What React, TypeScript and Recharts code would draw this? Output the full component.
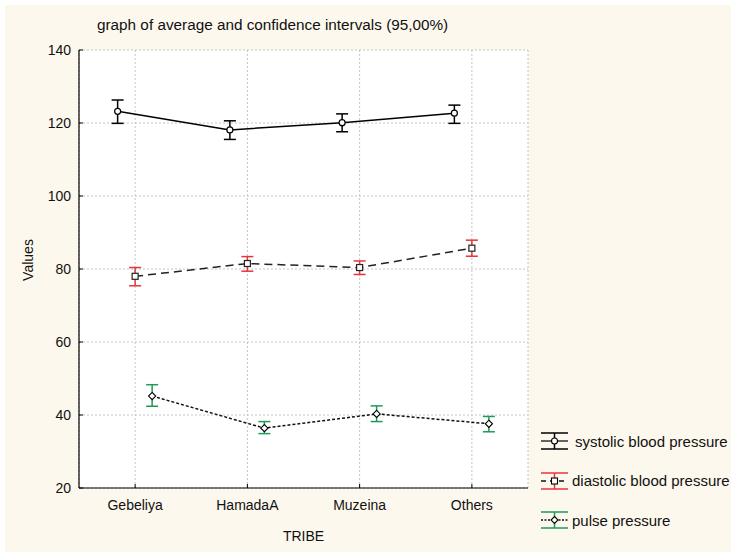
import React from 'react';
import { LineChart, Line, XAxis, YAxis, CartesianGrid, ErrorBar, Label } from 'recharts';

// Mean and 95% confidence bounds per tribe
const tribes = ['Gebeliya', 'HamadaA', 'Muzeina', 'Others'];

const systolicMean = [123.2, 118.1, 120.1, 122.7];
const systolicLow = [119.9, 115.5, 117.6, 119.9];
const systolicHigh = [126.3, 120.6, 122.5, 124.9];

const diastolicMean = [78.0, 81.5, 80.4, 85.7];
const diastolicLow = [75.4, 79.4, 78.5, 83.5];
const diastolicHigh = [80.4, 83.4, 82.2, 87.9];

const pulseMean = [45.2, 36.4, 40.3, 37.6];
const pulseLow = [42.4, 34.9, 38.2, 35.4];
const pulseHigh = [48.3, 38.2, 42.5, 39.6];

const yTicks = [20, 40, 60, 80, 100, 120, 140];

const seriesNames = ['systolic blood pressure', 'diastolic blood pressure', 'pulse pressure'];

const FONT = '"Liberation Sans", Arial, Helvetica, sans-serif';
const RED = '#e8333b';
const GREEN = '#1f9a57';
const CREAM = '#fdf8ed';

const rows = tribes.map((tribe, i) => ({
  tribe,
  sys: systolicMean[i],
  sysErr: [systolicMean[i] - systolicLow[i], systolicHigh[i] - systolicMean[i]],
  dia: diastolicMean[i],
  diaErr: [diastolicMean[i] - diastolicLow[i], diastolicHigh[i] - diastolicMean[i]],
  pul: pulseMean[i],
  pulErr: [pulseMean[i] - pulseLow[i], pulseHigh[i] - pulseMean[i]],
}));

const circleDot = (p: any) =>
  p.cx == null ? null : (
    <circle key={`c-${p.index}`} cx={p.cx} cy={p.cy} r={3} fill="#fff" stroke="#000" strokeWidth={1.2} />
  );

const squareDot = (p: any) =>
  p.cx == null ? null : (
    <rect key={`s-${p.index}`} x={p.cx - 3} y={p.cy - 3} width={6} height={6} fill="#fff" stroke="#222" strokeWidth={1.2} />
  );

const diamondDot = (p: any) =>
  p.cx == null ? null : (
    <path
      key={`d-${p.index}`}
      d={`M${p.cx},${p.cy - 3.6}L${p.cx + 3.6},${p.cy}L${p.cx},${p.cy + 3.6}L${p.cx - 3.6},${p.cy}Z`}
      fill="#fff"
      stroke="#000"
      strokeWidth={1.1}
    />
  );

type IconProps = { color: string; dash?: string; marker: 'circle' | 'square' | 'diamond' };

const LegendIcon = ({ color, dash, marker }: IconProps) => (
  <svg width={30} height={18} style={{ display: 'block' }}>
    <line x1={1} y1={1} x2={28} y2={1} stroke={color} strokeWidth={1.5} />
    <line x1={1} y1={17} x2={28} y2={17} stroke={color} strokeWidth={1.5} />
    <line x1={14.5} y1={1} x2={14.5} y2={17} stroke={color} strokeWidth={1.5} />
    <line x1={1} y1={9} x2={28} y2={9} stroke="#111" strokeWidth={1.3} strokeDasharray={dash} />
    {marker === 'circle' && <circle cx={14.5} cy={9} r={3} fill="#fff" stroke="#000" strokeWidth={1.1} />}
    {marker === 'square' && <rect x={11.5} y={6} width={6} height={6} fill="#fff" stroke="#000" strokeWidth={1.1} />}
    {marker === 'diamond' && (
      <path d="M14.5,5.5L18,9L14.5,12.5L11,9Z" fill="#fff" stroke="#000" strokeWidth={1.1} />
    )}
  </svg>
);

const legendItems: IconProps[] = [
  { color: '#000', marker: 'circle' },
  { color: RED, dash: '5 4', marker: 'square' },
  { color: GREEN, dash: '2 1.5', marker: 'diamond' },
];

export default function App() {
  return (
    <div
      style={{
        position: 'absolute',
        left: 0,
        top: 0,
        width: 731,
        height: 552,
        background: '#fff',
        overflow: 'hidden',
        fontFamily: FONT,
      }}
    >
      <div style={{ position: 'absolute', left: 5, top: 5, right: 0, bottom: 0, background: CREAM }} />
      <div
        style={{
          position: 'absolute',
          left: 97,
          top: 16,
          fontSize: 15.3,
          color: '#111',
          whiteSpace: 'nowrap',
        }}
      >
        graph of average and confidence intervals (95,00%)
      </div>
      <div style={{ position: 'absolute', left: 0, top: 0 }}>
        <LineChart
          width={731}
          height={552}
          data={rows}
          margin={{ top: 50, right: 203, bottom: 0, left: 0 }}
          style={{ fontFamily: FONT }}
        >
          <CartesianGrid fill="#fff" stroke="#c4c4c4" strokeDasharray="2 2" />
          <XAxis
            dataKey="tribe"
            scale="band"
            height={64}
            axisLine={{ stroke: '#000', strokeWidth: 1.2 }}
            tickLine={{ stroke: '#000' }}
            tickSize={-4}
            tickMargin={16}
            tick={{ fill: '#111', fontSize: 14 }}
          >
            <Label value="TRIBE" position="insideBottom" offset={11} fill="#111" fontSize={14} />
          </XAxis>
          <XAxis
            xAxisId="top"
            dataKey="tribe"
            scale="band"
            orientation="top"
            height={0}
            tick={false}
            axisLine={{ stroke: '#000', strokeWidth: 1.2 }}
            tickLine={{ stroke: '#000' }}
            tickSize={-4}
          />
          <XAxis xAxisId="sys" dataKey="tribe" scale="band" hide padding={{ left: -17.5, right: 17.5 }} />
          <XAxis xAxisId="pul" dataKey="tribe" scale="band" hide padding={{ left: 17, right: -17 }} />
          <YAxis
            width={79}
            domain={[20, 140]}
            ticks={yTicks}
            interval={0}
            axisLine={{ stroke: '#000', strokeWidth: 1.2 }}
            tickLine={{ stroke: '#000' }}
            tickSize={-4}
            tickMargin={12}
            tick={{ fill: '#111', fontSize: 14 }}
          >
            <Label value="Values" angle={-90} position="center" dx={-11} dy={-9} fill="#111" fontSize={14} />
          </YAxis>
          <YAxis
            yAxisId="right"
            orientation="right"
            width={0}
            domain={[20, 140]}
            ticks={yTicks}
            interval={0}
            tick={false}
            axisLine={{ stroke: '#000', strokeWidth: 1.2 }}
            tickLine={{ stroke: '#000' }}
            tickSize={-4}
          />
          <Line
            xAxisId="sys"
            dataKey="sys"
            name={seriesNames[0]}
            stroke="#000"
            strokeWidth={1.5}
            dot={circleDot}
            activeDot={false}
            isAnimationActive={false}
          >
            <ErrorBar dataKey="sysErr" direction="y" width={6} stroke="#000" strokeWidth={1.5} isAnimationActive={false} />
          </Line>
          <Line
            dataKey="dia"
            name={seriesNames[1]}
            stroke="#222"
            strokeWidth={1.5}
            strokeDasharray="8 5"
            dot={squareDot}
            activeDot={false}
            isAnimationActive={false}
          >
            <ErrorBar dataKey="diaErr" direction="y" width={6} stroke={RED} strokeWidth={1.5} isAnimationActive={false} />
          </Line>
          <Line
            xAxisId="pul"
            dataKey="pul"
            name={seriesNames[2]}
            stroke="#111"
            strokeWidth={1.5}
            strokeDasharray="3 2"
            dot={diamondDot}
            activeDot={false}
            isAnimationActive={false}
          >
            <ErrorBar dataKey="pulErr" direction="y" width={6} stroke={GREEN} strokeWidth={1.5} isAnimationActive={false} />
          </Line>
        </LineChart>
      </div>
      {seriesNames.map((name, i) => (
        <div
          key={name}
          style={{
            position: 'absolute',
            left: 540,
            top: 432 + i * 39.5,
            display: 'flex',
            alignItems: 'center',
            whiteSpace: 'nowrap',
          }}
        >
          <LegendIcon {...legendItems[i]} />
          <span style={{ fontSize: 15, color: '#111', marginLeft: i === 0 ? 5 : 2 }}>{name}</span>
        </div>
      ))}
    </div>
  );
}
